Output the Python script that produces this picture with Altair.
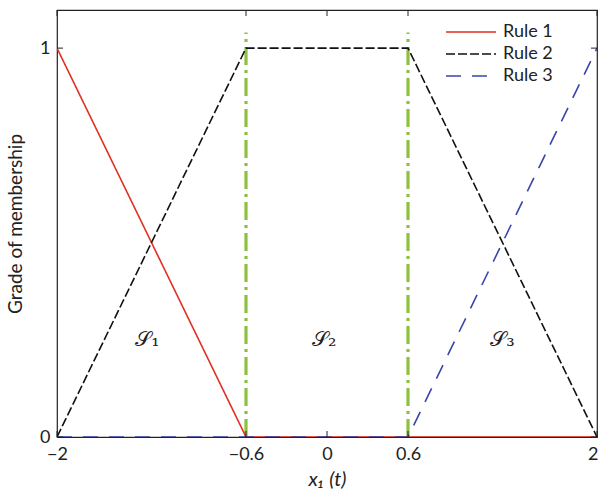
import altair as alt
import pandas as pd

# Data
rule1_x = [-2.0, -0.6, 2.0]
rule1_y = [1.0, 0.0, 0.0]
rule2_x = [-2.0, -0.6, 0.6, 2.0]
rule2_y = [0.0, 1.0, 1.0, 0.0]
rule3_x = [-2.0, 0.6, 2.0]
rule3_y = [0.0, 0.0, 1.0]
series_names = ["Rule 1", "Rule 2", "Rule 3"]
boundaries = [-0.6, 0.6]
boundary_top = 1.04
region_labels = ["𝒮₁", "𝒮₂", "𝒮₃"]
region_x = [-1.33, -0.02, 1.30]
region_y = [0.25, 0.25, 0.25]
x_ticks = [-2, -0.6, 0, 0.6, 2]
y_ticks = [0, 1]

rows = []
for name, xs, ys in zip(series_names, [rule1_x, rule2_x, rule3_x], [rule1_y, rule2_y, rule3_y]):
    for i, (a, b) in enumerate(zip(xs, ys)):
        rows.append({"series": name, "x": a, "y": b, "order": i})
df = pd.DataFrame(rows)

W, H = 540, 427
font = "Lato"

xscale = alt.Scale(domain=[-2, 2], nice=False, zero=False)
yscale = alt.Scale(domain=[0, 1.098], nice=False, zero=False)

lines = alt.Chart(df).mark_line(strokeWidth=1.6, clip=True).encode(
    x=alt.X("x:Q", scale=xscale,
            axis=alt.Axis(values=x_ticks, format="~g", title="x₁ (t)", grid=False, domain=False,
                          tickSize=0, labelFontSize=18, labelFont=font, labelColor="#222",
                          labelPadding=8,
                          labelAlign=alt.ExprRef(expr="datum.value == 2 ? 'right' : 'center'"),
                          labelOffset=alt.ExprRef(expr="datum.value == 2 ? 1 : 0"),
                          titleFontSize=20, titleFont=font, titleFontStyle="italic",
                          titleFontWeight="normal", titleColor="#222", titlePadding=6,
                          labelFlush=False)),
    y=alt.Y("y:Q", scale=yscale,
            axis=alt.Axis(values=y_ticks, format="~g", title="Grade of membership", grid=False,
                          domain=False, tickSize=0, labelFontSize=18, labelFont=font,
                          labelColor="#222", labelPadding=7, titleFontSize=19, titleFont=font,
                          titleFontWeight="normal", titleColor="#222", titlePadding=14)),
    color=alt.Color("series:N", scale=alt.Scale(domain=series_names,
                                                 range=["#e03124", "#111111", "#3a45a8"]),
                    legend=alt.Legend(title=None, orient="none", legendX=388, legendY=11,
                                      symbolType="stroke", symbolSize=2500, symbolStrokeWidth=1.6,
                                      labelFontSize=18, labelFont=font, labelColor="#222",
                                      rowPadding=0, clipHeight=22, labelOffset=6)),
    strokeDash=alt.StrokeDash("series:N", scale=alt.Scale(domain=series_names,
                                                         range=[[1, 0], [9, 3], [15, 11]]),
                              legend=alt.Legend(title=None)),
    order="order:Q",
)

bdf = pd.DataFrame({"x": boundaries, "y0": [0.0, 0.0], "y1": [boundary_top, boundary_top]})
green = alt.Chart(bdf).mark_rule(color="#8dc03f", strokeWidth=3.2, strokeDash=[18, 5, 3, 5]).encode(
    x=alt.X("x:Q", scale=xscale), y=alt.Y("y0:Q", scale=yscale), y2="y1:Q"
)

ldf = pd.DataFrame({"label": region_labels, "x": region_x, "y": region_y})
labels = alt.Chart(ldf).mark_text(fontSize=21, font="DejaVu Serif", color="#222").encode(
    x=alt.X("x:Q", scale=xscale), y=alt.Y("y:Q", scale=yscale), text="label:N"
)

xt = pd.DataFrame({"x": x_ticks})
yt = pd.DataFrame({"y": y_ticks})
tick_col = "#222"
xt_bottom = alt.Chart(xt).mark_rule(color=tick_col, strokeWidth=1).encode(
    x=alt.X("x:Q", scale=xscale), y=alt.value(H), y2=alt.value(H - 6))
xt_top = alt.Chart(xt).mark_rule(color=tick_col, strokeWidth=1).encode(
    x=alt.X("x:Q", scale=xscale), y=alt.value(0), y2=alt.value(6))
yt_left = alt.Chart(yt).mark_rule(color=tick_col, strokeWidth=1).encode(
    y=alt.Y("y:Q", scale=yscale), x=alt.value(0), x2=alt.value(6))
yt_right = alt.Chart(yt).mark_rule(color=tick_col, strokeWidth=1).encode(
    y=alt.Y("y:Q", scale=yscale), x=alt.value(W), x2=alt.value(W - 6))

chart = alt.layer(green, lines, labels, xt_bottom, xt_top, yt_left, yt_right).properties(
    width=W, height=H,
    padding={"left": 57, "top": 10, "right": 1, "bottom": 58},
    autosize=alt.AutoSizeParams(type="none"),
    background="white",
).resolve_scale(x="shared", y="shared").configure_view(stroke="#222", strokeWidth=1.2)

chart.save("out.html", embed_options={"renderer": "svg", "actions": False})
